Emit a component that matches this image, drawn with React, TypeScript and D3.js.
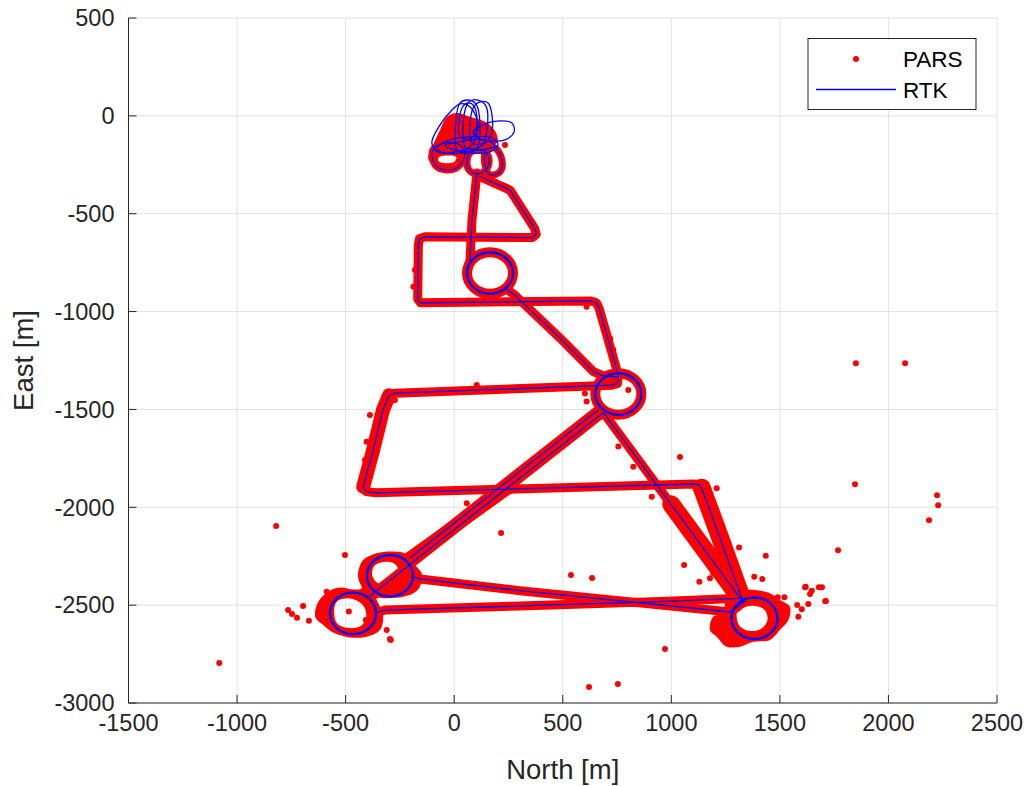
import React from 'react';
import * as d3 from 'd3';

type P = [number, number];

// ---------- axes ----------
const xTicks = [-1500, -1000, -500, 0, 500, 1000, 1500, 2000, 2500];
const yTicks = [-3000, -2500, -2000, -1500, -1000, -500, 0, 500];

// ---------- RTK trajectory (North, East) [m] ----------
const rtkSpurToLoop2: P[] = [[105, -292], [82, -532], [73, -736], [62, -792]];
const rtkMainRoute: P[] = [
  [119, -310], [257, -379], [370, -575], [378, -605], [360, -622], [-135, -618], [-160, -628],
  [-165, -660], [-168, -935], [-155, -955], [630, -946], [655, -955], [668, -985], [756, -1325],
  [752, -1368], [725, -1376], [-275, -1417], [-300, -1428], [-328, -1503], [-373, -1707],
  [-419, -1895], [-405, -1920], [-360, -1926], [1101, -1881], [1125, -1884], [1140, -1900],
  [1324, -2462], [1340, -2482],
];
const rtkLoop2ToLoop3: P[] = [[240, -885], [275, -912], [488, -1136], [641, -1307], [687, -1329], [748, -1333]];
const rtkLoop3ToLoop4: P[] = [[662, -1503], [-204, -2259]];
const rtkLoop3ToLoop5: P[] = [[685, -1518], [-388, -2453]];
const rtkLoop3ToLoop6: P[] = [[690, -1520], [1317, -2464], [1330, -2490]];
const rtkLoop4East: P[] = [[-190, -2355], [-158, -2366], [303, -2426], [1271, -2535], [1307, -2508], [1335, -2480]];
const rtkLoop5East: P[] = [[-360, -2540], [-319, -2525], [303, -2504], [950, -2482], [1317, -2465]];

// circular loops: centres (North, East), radius [m]
const loopCentres: P[] = [[165, -803], [756, -1421], [-296, -2350], [-466, -2542], [1383, -2567]];
const loopRadius = 106;

// small loops near the start point
const startLoopA: P[] = [[13, -174], [8, -21], [27, 66], [64, 81], [100, 61], [119, -46], [105, -164], [64, -184]];
const startLoopB: P[] = [[50, -159], [50, 30], [73, 76], [110, 81], [146, 51], [151, -72], [128, -153], [87, -169]];
const startLoopC: P[] = [[82, -138], [87, 40], [119, 71], [156, 66], [174, 5], [170, -97], [142, -138]];
const startLoopD: P[] = [[27, -107], [36, 40], [64, 66], [91, 51], [105, -46], [82, -113]];
const startLoopE: P[] = [[-103, -138], [-65, -46], [-10, 30], [27, 61], [73, 46], [110, -46], [82, -148], [4, -184], [-75, -184]];
const startLoopF: P[] = [[87, -82], [142, -41], [211, -26], [266, -36], [276, -82], [234, -123], [165, -128], [110, -113]];
const startLoopG: P[] = [[-79, -164], [-19, -123], [73, -107], [174, -113], [202, -148], [165, -184], [50, -189], [-42, -189]];
const startLoopG2: P[] = [[-42, -153], [50, -128], [142, -123], [188, -153], [119, -174], [27, -179]];
const startLoopH: P[] = [[59, -235], [73, -189], [110, -174], [147, -189], [161, -235], [142, -281], [105, -297], [68, -276]];
const startLoopH2: P[] = [[-98, -174], [-42, -138], [27, -148], [50, -199], [17, -261], [-42, -276], [-88, -251]];
const startLoopI: P[] = [[147, -174], [188, -164], [220, -225], [211, -286], [165, -302], [142, -251]];

// ---------- PARS (dense clouds, outlines) ----------
const parsStartCloud: P[] = [
  [-111, -184], [-65, -72], [-33, -5], [13, 15], [73, -5], [151, -36], [190, -80], [200, -130],
  [170, -160], [110, -170], [64, -200], [27, -230], [-33, -270], [-88, -262], [-120, -215],
];
const parsStartHoleA: P[] = [[-70, -212], [-29, -203], [10, -212], [0, -236], [-42, -242], [-72, -232]];

const parsSouthWestCloud: P[] = [
  [-442, -2329], [-419, -2269], [-357, -2235], [-281, -2226], [-219, -2240], [-173, -2304], [-150, -2337],
  [-158, -2406], [-188, -2439], [-234, -2457], [-311, -2465], [-357, -2465], [-342, -2508], [-327, -2559],
  [-342, -2627], [-403, -2661], [-480, -2665], [-557, -2640], [-603, -2601], [-640, -2559], [-625, -2482],
  [-580, -2431], [-526, -2410], [-465, -2420], [-426, -2414], [-440, -2371],
];
const parsHoleLoop4: P[] = [[-368, -2300], [-327, -2280], [-275, -2288], [-255, -2329], [-278, -2372], [-319, -2393], [-355, -2385], [-378, -2346]];
const parsHoleLoop5: P[] = [[-540, -2482], [-480, -2466], [-420, -2500], [-405, -2559], [-430, -2607], [-495, -2616], [-540, -2592], [-553, -2535]];

const parsSouthEastCloud: P[] = [
  [1255, -2457], [1347, -2422], [1454, -2439], [1500, -2474], [1546, -2508], [1539, -2576], [1500, -2627],
  [1454, -2678], [1378, -2687], [1316, -2712], [1255, -2712], [1209, -2661], [1178, -2627], [1193, -2559], [1240, -2542],
];
const parsHoleLoop6: P[] = [[1305, -2530], [1362, -2504], [1428, -2522], [1443, -2576], [1412, -2622], [1355, -2631], [1312, -2603]];

// noisier PARS stretches
const parsNoisyWest: P[] = [[-300, -1428], [-328, -1503], [-373, -1707], [-419, -1895]];
const parsNoisyQuadEdge: P[] = [[1140, -1900], [1230, -2170], [1324, -2462]];
const parsNoisyDiagSE: P[] = [[1000, -1985], [1317, -2464]];
const parsNoisyDiagSW: P[] = [[250, -1900], [-204, -2259]];

// isolated PARS fixes
const parsOutliers: P[] = [
  [-1082, -2795], [-820, -2096], [2077, -1264], [1850, -1264], [1846, -1882], [2224, -1938], [2229, -1990],
  [2187, -2066], [1768, -2219], [1694, -2408], [1616, -2408], [1639, -2443], [1712, -2479], [1040, -1743],
  [971, -2724], [621, -2918], [754, -2903], [538, -2346], [635, -2361], [216, -2131], [-503, -2244],
  [-765, -2525], [-747, -2545], [-724, -2565], [-696, -2504], [-669, -2580], [-296, -2673], [-407, -2576],
  [1209, -1903], [910, -1946], [1435, -2247], [1619, -2406], [1647, -2426], [1680, -2408], [1709, -2480],
  [1631, -2494], [1580, -2499], [1601, -2521], [1585, -2559], [1490, -2460], [1521, -2460], [1059, -2295],
  [1129, -2380], [1419, -2366], [1382, -2355], [1312, -2206], [1193, -2337], [1178, -2363], [-587, -2431],
  [-485, -2533], [-292, -2678], [-311, -2627], [58, -1980], [756, -1690], [825, -1793], [610, -1460],
  [602, -1418], [104, -1375], [-281, -1452], [-388, -1528], [-403, -1665], [-411, -1758], [-388, -1844],
  [-181, -787], [-188, -873], [610, -975], [718, -1136], [733, -1196], [-273, -1452], [802, -1401], [234, -149],
];

const RED = '#ff0000';
const BLUE = '#0000ff';
const AXIS = '#262626';
const GRID = '#e2e2e2';

export default function App() {
  const W = 1028;
  const H = 786;
  const x = d3.scaleLinear().domain([-1500, 2500]).range([128.5, 997]);
  const y = d3.scaleLinear().domain([-3000, 500]).range([703, 18]);
  const line = d3.line<P>().x((d) => x(d[0])).y((d) => y(d[1]));
  const closedLine = d3.line<P>().x((d) => x(d[0])).y((d) => y(d[1])).curve(d3.curveCatmullRomClosed.alpha(0.5));
  const rx = x(loopRadius) - x(0);
  const ry = y(0) - y(loopRadius);

  const routes = [rtkSpurToLoop2, rtkMainRoute, rtkLoop2ToLoop3, rtkLoop3ToLoop4, rtkLoop3ToLoop5, rtkLoop3ToLoop6, rtkLoop4East, rtkLoop5East];
  const startLoops = [startLoopA, startLoopB, startLoopC, startLoopD, startLoopE, startLoopF, startLoopG, startLoopG2, startLoopH, startLoopH2, startLoopI];
  const noisy: { pts: P[]; w: number }[] = [
    { pts: parsNoisyWest, w: 14 },
    { pts: parsNoisyQuadEdge, w: 18 },
    { pts: parsNoisyDiagSE, w: 18 },
    { pts: parsNoisyDiagSW, w: 13 },
  ];
  const clouds: P[][][] = [
    [parsStartCloud, parsStartHoleA],
    [parsSouthWestCloud, parsHoleLoop4, parsHoleLoop5],
    [parsSouthEastCloud, parsHoleLoop6],
  ];

  const x0 = x.range()[0];
  const x1 = x.range()[1];
  const y0 = y.range()[0];
  const y1 = y.range()[1];
  const font = "'Liberation Sans', Arial, Helvetica, sans-serif";

  return (
    <svg width={W} height={H} style={{ position: 'absolute', left: 0, top: 0, background: '#fff' }} fontFamily={font}>
      <rect x={0} y={0} width={W} height={H} fill="#fff" />
      {/* grid */}
      {xTicks.map((t) => (
        <line key={'gx' + t} x1={x(t)} x2={x(t)} y1={y1} y2={y0} stroke={GRID} strokeWidth={1} />
      ))}
      {yTicks.map((t) => (
        <line key={'gy' + t} x1={x0} x2={x1} y1={y(t)} y2={y(t)} stroke={GRID} strokeWidth={1} />
      ))}

      {/* PARS: dense bands along route */}
      <g fill="none" stroke={RED} strokeLinejoin="round" strokeLinecap="round">
        {routes.map((r, i) => (
          <path key={'pb' + i} d={line(r) || ''} strokeWidth={9} />
        ))}
        {noisy.map((n, i) => (
          <path key={'pn' + i} d={line(n.pts) || ''} strokeWidth={n.w} />
        ))}
        {loopCentres.slice(0, 2).map((c, i) => (
          <ellipse key={'pr' + i} cx={x(c[0])} cy={y(c[1])} rx={rx} ry={ry} strokeWidth={10} />
        ))}
        {[startLoopH, startLoopH2, startLoopI].map((l, i) => (
          <path key={'ps' + i} d={closedLine(l) || ''} strokeWidth={7} />
        ))}
      </g>
      {clouds.map((c, i) => (
        <path key={'pc' + i} d={c.map((p) => closedLine(p)).join(' ')} fill={RED} fillRule="evenodd" />
      ))}
      {parsOutliers.map((p, i) => (
        <circle key={'po' + i} cx={x(p[0])} cy={y(p[1])} r={3} fill={RED} />
      ))}

      {/* RTK */}
      <g fill="none" stroke={BLUE} strokeLinejoin="round" strokeLinecap="round">
        {routes.map((r, i) => (
          <path key={'rb' + i} d={line(r) || ''} strokeWidth={1.3} />
        ))}
        {startLoops.map((l, i) => (
          <path key={'rl' + i} d={closedLine(l) || ''} strokeWidth={1.3} />
        ))}
        {loopCentres.map((c, i) => (
          <ellipse key={'rc' + i} cx={x(c[0])} cy={y(c[1])} rx={rx} ry={ry} strokeWidth={2.4} />
        ))}
      </g>

      {/* axes */}
      <line x1={x0} x2={x0} y1={y1} y2={y0} stroke={AXIS} strokeWidth={1} />
      <line x1={x0} x2={x1} y1={y0} y2={y0} stroke={AXIS} strokeWidth={1} />
      {xTicks.map((t) => (
        <g key={'tx' + t}>
          <line x1={x(t)} x2={x(t)} y1={y0} y2={y0 - 8} stroke={AXIS} strokeWidth={1} />
          <text x={x(t)} y={y0 + 28} textAnchor="middle" fontSize={23.5} fill={AXIS}>
            {t}
          </text>
        </g>
      ))}
      {yTicks.map((t) => (
        <g key={'ty' + t}>
          <line x1={x0} x2={x0 + 8} y1={y(t)} y2={y(t)} stroke={AXIS} strokeWidth={1} />
          <text x={x0 - 14} y={y(t)} dy="0.35em" textAnchor="end" fontSize={23.5} fill={AXIS}>
            {t}
          </text>
        </g>
      ))}
      <text x={(x0 + x1) / 2} y={779} textAnchor="middle" fontSize={27.5} fill={AXIS}>
        North [m]
      </text>
      <text transform={`translate(33, ${(y0 + y1) / 2}) rotate(-90)`} textAnchor="middle" fontSize={27.5} fill={AXIS}>
        East [m]
      </text>

      {/* legend */}
      <g>
        <rect x={808} y={38.5} width={168} height={71} fill="#fff" stroke={AXIS} strokeWidth={1} />
        <circle cx={856} cy={59} r={3} fill={RED} />
        <text x={903} y={59} dy="0.35em" fontSize={22.5} fill="#000">
          PARS
        </text>
        <line x1={816} x2={896} y1={89.5} y2={89.5} stroke={BLUE} strokeWidth={1.3} />
        <text x={903} y={90} dy="0.35em" fontSize={22.5} fill="#000">
          RTK
        </text>
      </g>
    </svg>
  );
}
